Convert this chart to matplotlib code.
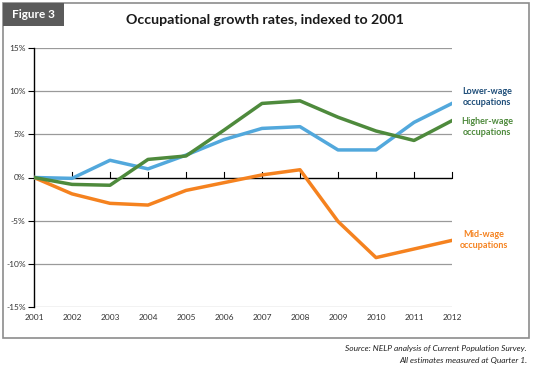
import matplotlib.pyplot as plt
from matplotlib.patches import Rectangle

plt.rcParams['font.family'] = ['Lato', 'DejaVu Sans']

# --- data ---
years = [2001, 2002, 2003, 2004, 2005, 2006, 2007, 2008, 2009, 2010, 2011, 2012]
lower_wage = [0, -0.1, 2.0, 1.0, 2.6, 4.4, 5.7, 5.9, 3.2, 3.2, 6.4, 8.6]
higher_wage = [0, -0.8, -0.9, 2.1, 2.5, 5.5, 8.6, 8.9, 7.0, 5.4, 4.3, 6.6]
mid_wage = [0, -1.9, -3.0, -3.2, -1.5, -0.6, 0.3, 0.9, -5.1, -9.3, -8.3, -7.3]
y_ticks = [-15, -10, -5, 0, 5, 10, 15]

blue = '#52A8DC'
green = '#4E8A3C'
orange = '#F5821F'

fig = plt.figure(figsize=(5.36, 3.72), dpi=100)

# outer frame and "Figure 3" tab
fig.patches.append(Rectangle((3/536, 1 - 338/372), 526/536, 335/372, transform=fig.transFigure,
                             fill=False, edgecolor='#8C8C8C', linewidth=1.2))
fig.patches.append(Rectangle((3/536, 1 - 26/372), 61/536, 23/372, transform=fig.transFigure,
                             facecolor='#5B5B5B', edgecolor='none'))
fig.text(33/536, 1 - 14/372, 'Figure 3', color='white', fontsize=8.5, fontweight='bold',
         ha='center', va='center')
fig.text(265/536, 1 - 20/372, 'Occupational growth rates, indexed to 2001', fontsize=10.2,
         fontweight='bold', ha='center', va='center', color='#1a1a1a')

ax = fig.add_axes([34/536, 1 - 306.7/372, 418/536, 258.4/372])
ax.set_xlim(years[0], years[-1])
ax.set_ylim(-15, 15)

for y in y_ticks:
    if y != 0:
        ax.axhline(y, color='#9A9A9A', linewidth=0.9, zorder=1)
ax.axhline(0, color='black', linewidth=1.0, zorder=2)

ax.plot(years, mid_wage, color=orange, linewidth=2.5, zorder=3, solid_joinstyle='round')
ax.plot(years, lower_wage, color=blue, linewidth=2.5, zorder=4, solid_joinstyle='round')
ax.plot(years, higher_wage, color=green, linewidth=2.5, zorder=5, solid_joinstyle='round')

for s in ['top', 'right', 'bottom']:
    ax.spines[s].set_visible(False)
ax.spines['left'].set_color('black')
ax.spines['left'].set_linewidth(1.0)

ax.set_yticks(y_ticks)
ax.set_yticklabels([f'{v}%' for v in y_ticks], fontsize=6, color='#333333')
ax.tick_params(axis='y', length=4, width=0.8, pad=2)
ax.set_xticks(years)
ax.set_xticklabels([str(v) for v in years], fontsize=6, color='#333333')
ax.tick_params(axis='x', length=0, pad=5)

# upward tick marks on the zero line
for x in years[1:]:
    ax.plot([x, x], [0, 0.6], color='black', linewidth=0.8, zorder=2, clip_on=False)

fig.text(487/536, 1 - 97/372, 'Lower-wage\noccupations', color='#1F4E79', fontsize=6.5,
         fontweight='bold', ha='center', va='center', linespacing=1.15)
fig.text(487/536, 1 - 127/372, 'Higher-wage\noccupations', color=green, fontsize=6.5,
         fontweight='bold', ha='center', va='center', linespacing=1.15)
fig.text(484/536, 1 - 240/372, 'Mid-wage\noccupations', color=orange, fontsize=6.5,
         fontweight='bold', ha='center', va='center', linespacing=1.15)

fig.text(527/536, 1 - 349/372, 'Source: NELP analysis of Current Population Survey.',
         fontsize=6, style='italic', ha='right', va='center', color='#222222')
fig.text(527/536, 1 - 361/372, 'All estimates measured at Quarter 1.',
         fontsize=6, style='italic', ha='right', va='center', color='#222222')

fig.savefig('out.png', dpi=100)
